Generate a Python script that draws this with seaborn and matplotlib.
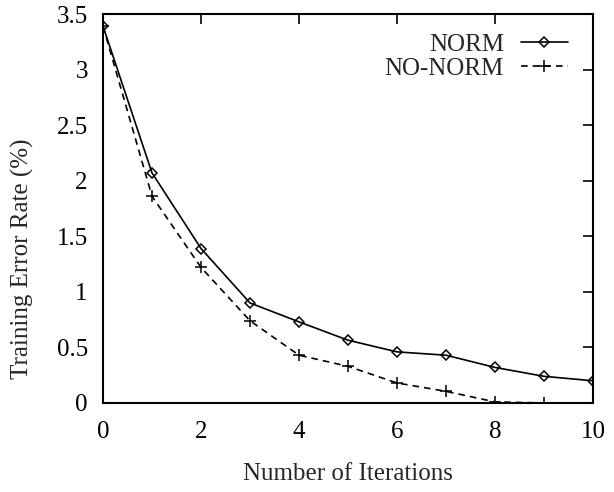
import matplotlib
matplotlib.use("Agg")
import matplotlib.pyplot as plt
import seaborn as sns
import pandas as pd

iterations = [0, 1, 2, 3, 4, 5, 6, 7, 8, 9, 10]
norm_err = [3.39, 2.07, 1.39, 0.90, 0.73, 0.565, 0.46, 0.43, 0.32, 0.24, 0.20]
nonorm_err = [3.39, 1.86, 1.22, 0.74, 0.43, 0.33, 0.18, 0.105, 0.01, 0.0, 0.0]
series_names = ["NORM", "NO-NORM"]
x_ticks = [0, 2, 4, 6, 8, 10]
y_ticks = [0, 0.5, 1, 1.5, 2, 2.5, 3, 3.5]
y_tick_labels = ["0", "0.5", "1", "1.5", "2", "2.5", "3", "3.5"]

sns.set_style("white")
plt.rcParams["font.family"] = ["Liberation Serif", "DejaVu Serif"]
FS = 18
plt.rcParams["font.size"] = FS

df_norm = pd.DataFrame({"iter": iterations, "err": norm_err})
df_nonorm = pd.DataFrame({"iter": iterations, "err": nonorm_err})

fig = plt.figure(figsize=(6.14, 4.92), dpi=100)
ax = fig.add_axes([0.1678, 0.1809, 0.798, 0.7906])

sns.lineplot(data=df_norm, x="iter", y="err", color="black", marker="D",
             markersize=5.5, markerfacecolor="none", markeredgecolor="black",
             markeredgewidth=1.1, linewidth=1.2, ax=ax, label=series_names[0])
sns.lineplot(data=df_nonorm, x="iter", y="err", color="black", marker="+",
             markersize=8, markeredgecolor="black", markeredgewidth=1.1,
             linewidth=1.2, linestyle=(0, (4, 3)), ax=ax, label=series_names[1])

ax.set_xlim(0, 10)
ax.set_ylim(0, 3.5)
ax.set_xticks(x_ticks)
ax.set_yticks(y_ticks)
ax.set_yticklabels(y_tick_labels)

for s in ax.spines.values():
    s.set_visible(True)
    s.set_linewidth(1.5)
    s.set_color("black")

ax.tick_params(axis="both", direction="in", length=7, width=1.2, colors="black",
               top=True, right=True, labelsize=FS)
ax.tick_params(axis="x", pad=13)
ax.tick_params(axis="y", pad=11)

ax.set_xlabel("Number of Iterations", fontsize=FS)
ax.set_ylabel("Training Error Rate (%)", fontsize=FS)
ax.xaxis.set_label_coords(0.5, -0.155)
ax.yaxis.set_label_coords(-0.14, 0.37)

lines = ax.get_lines()
leg = ax.legend(lines[:2], series_names, loc="upper right",
                bbox_to_anchor=(0.949, 0.951), frameon=False, markerfirst=False,
                handlelength=1.9, handletextpad=0.66, labelspacing=0.08,
                borderpad=0, borderaxespad=0, fontsize=FS, numpoints=1)

fig.savefig("out.png", dpi=100)
